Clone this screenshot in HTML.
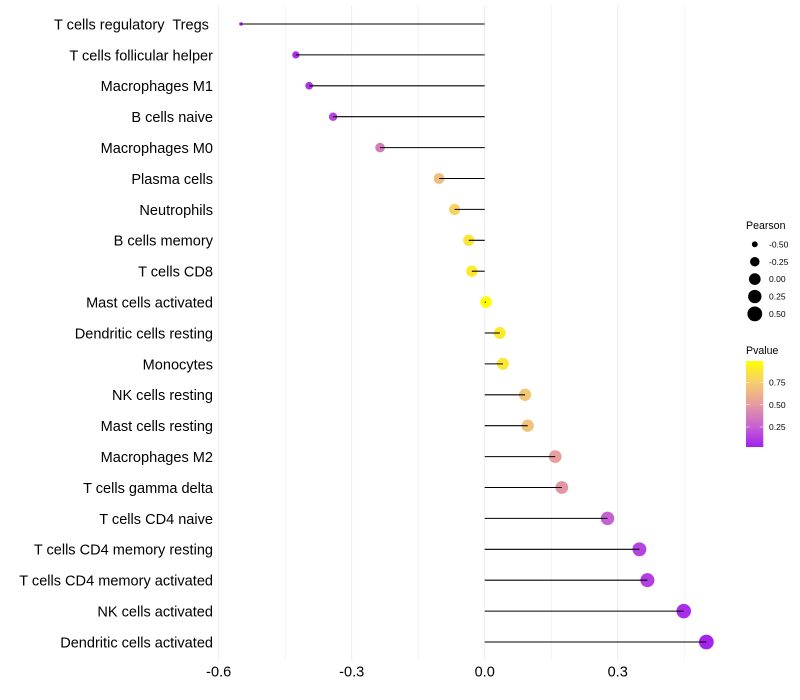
<!DOCTYPE html>
<html lang="en">
<head>
<meta charset="utf-8">
<title>Immune cell correlation lollipop chart</title>
<style>
html,body{margin:0;padding:0;background:#fff;}
svg{display:block;font-family:"Liberation Sans",sans-serif;}
text{white-space:pre;}
</style>
</head>
<body>
<svg id="chart" xmlns="http://www.w3.org/2000/svg" width="800" height="700" viewBox="0 0 800 700">
  <defs>
    <linearGradient id="pvalue-gradient" x1="0" y1="1" x2="0" y2="0"></linearGradient>
  </defs>
  <g id="grid"></g>
  <g id="y-labels"></g>
  <g id="x-labels"></g>
  <g id="points"></g>
  <g id="stems"></g>
  <g id="size-legend">
    <text x="746" y="229" font-size="10.6" fill="#000">Pearson</text>
  </g>
  <g id="color-legend">
    <text x="746" y="354" font-size="10.6" fill="#000">Pvalue</text>
    <rect x="746" y="361" width="17.3" height="86" fill="url(#pvalue-gradient)"></rect>
  </g>
</svg>
<script>
const categories = ["T cells regulatory  Tregs ","T cells follicular helper","Macrophages M1","B cells naive","Macrophages M0","Plasma cells","Neutrophils","B cells memory","T cells CD8","Mast cells activated","Dendritic cells resting","Monocytes","NK cells resting","Mast cells resting","Macrophages M2","T cells gamma delta","T cells CD4 naive","T cells CD4 memory resting","T cells CD4 memory activated","NK cells activated","Dendritic cells activated"];
const pearson = [-0.55,-0.426,-0.396,-0.342,-0.236,-0.103,-0.068,-0.036,-0.029,0.003,0.034,0.041,0.091,0.097,0.159,0.174,0.277,0.349,0.367,0.449,0.5];
const pvalues = [0.01,0.06,0.08,0.13,0.36,0.68,0.78,0.87,0.9,0.99,0.89,0.87,0.72,0.7,0.52,0.47,0.24,0.13,0.11,0.05,0.02];
const xTicks = [-0.6,-0.3,0,0.3];
const xTickLabels = ["-0.6","-0.3","0.0","0.3"];
const xGrid = [-0.6,-0.45,-0.3,-0.15,0,0.15,0.3,0.45];
const sizeLegendValues = [-0.5,-0.25,0,0.25,0.5];
const sizeLegendLabels = ["-0.50","-0.25","0.00","0.25","0.50"];
const pvalueTicks = [0.25,0.5,0.75];
const pvalueTickLabels = ["0.25","0.50","0.75"];
const colorStopValues = [0,0.25,0.5,0.75,1];
const colorStopColors = ["#a020f0","#c864cf","#e69ca0","#f5cd6e","#ffff00"];

const NS = "http://www.w3.org/2000/svg";
const X0 = 484.7, X_PER_UNIT = 443.3, Y0 = 24, Y_STEP = 30.9;
const x = v => X0 + v * X_PER_UNIT;
const y = i => Y0 + i * Y_STEP;
const radius = v => 1.7 + 5.55 * Math.sqrt(Math.max(0, v + 0.55));
const barY = p => 361 + (0.99 - p) / 0.25 * 22.3;

function hexToRgb(h){ return [1,3,5].map(k => parseInt(h.substr(k,2),16)); }
function colorOf(p){
  let k = 0;
  while (k < colorStopValues.length - 2 && p > colorStopValues[k+1]) k++;
  const t = (p - colorStopValues[k]) / (colorStopValues[k+1] - colorStopValues[k]);
  const a = hexToRgb(colorStopColors[k]), b = hexToRgb(colorStopColors[k+1]);
  return "rgb(" + a.map((c,n) => Math.round(c + (b[n]-c)*t)).join(",") + ")";
}
function make(tag, attrs, parent, txt){
  const el = document.createElementNS(NS, tag);
  for (const key in attrs) el.setAttribute(key, attrs[key]);
  if (txt !== undefined) el.textContent = txt;
  parent.appendChild(el);
  return el;
}

const gridG = document.getElementById("grid");
xGrid.forEach(v => {
  const isMajor = xTicks.includes(v);
  const el = make("line", {x1:x(v), x2:x(v), y1:5, y2:660.5, stroke:isMajor ? "#eaeaea" : "#f1f1f1", "stroke-width":0.9}, gridG);
  
  
});

const xLabelG = document.getElementById("x-labels");
xTicks.forEach((v,i) => {
  const el = make("text", {x:x(v), y:676.4, "text-anchor":"middle", "font-size":14.55, fill:"#000"}, xLabelG, xTickLabels[i]);
  
  
});

const yLabelG = document.getElementById("y-labels");
const pointG = document.getElementById("points");
const stemG = document.getElementById("stems");
categories.forEach((name,i) => {
  const label = make("text", {x:213, y:y(i)+5.4, "text-anchor":"end", "font-size":14.55, fill:"#000"}, yLabelG, name);
  
  

  const point = make("circle", {cx:x(pearson[i]), cy:y(i), r:radius(pearson[i]), fill:colorOf(pvalues[i])}, pointG);
  
  

  const stem = make("line", {x1:x(0), x2:x(pearson[i]), y1:y(i), y2:y(i), stroke:"#000", "stroke-width":1.07}, stemG);
  
  
});

const sizeG = document.getElementById("size-legend");
sizeLegendValues.forEach((v,i) => {
  const cy = 244.3 + i * 17.4;
  const dot = make("circle", {cx:754.8, cy:cy, r:radius(v), fill:"#000"}, sizeG);
  
  
  const lab = make("text", {x:769, y:cy+3.1, "font-size":8.5, fill:"#000"}, sizeG, sizeLegendLabels[i]);
  
  
});

const grad = document.getElementById("pvalue-gradient");
colorStopValues.forEach((v,i) => {
  make("stop", {offset:(v*100)+"%", "stop-color":colorStopColors[i]}, grad);
});

const colorG = document.getElementById("color-legend");
pvalueTicks.forEach((p,i) => {
  const ty = barY(p);
  const t1 = make("line", {x1:746, x2:749.5, y1:ty, y2:ty, stroke:"#fff", "stroke-opacity":0.7, "stroke-width":0.8}, colorG);
  
  
  const t2 = make("line", {x1:759.8, x2:763.3, y1:ty, y2:ty, stroke:"#fff", "stroke-opacity":0.7, "stroke-width":0.8}, colorG);
  
  
  const lab = make("text", {x:769, y:ty+3.1, "font-size":8.5, fill:"#000"}, colorG, pvalueTickLabels[i]);
  
  
});
</script>
</body>
</html>
